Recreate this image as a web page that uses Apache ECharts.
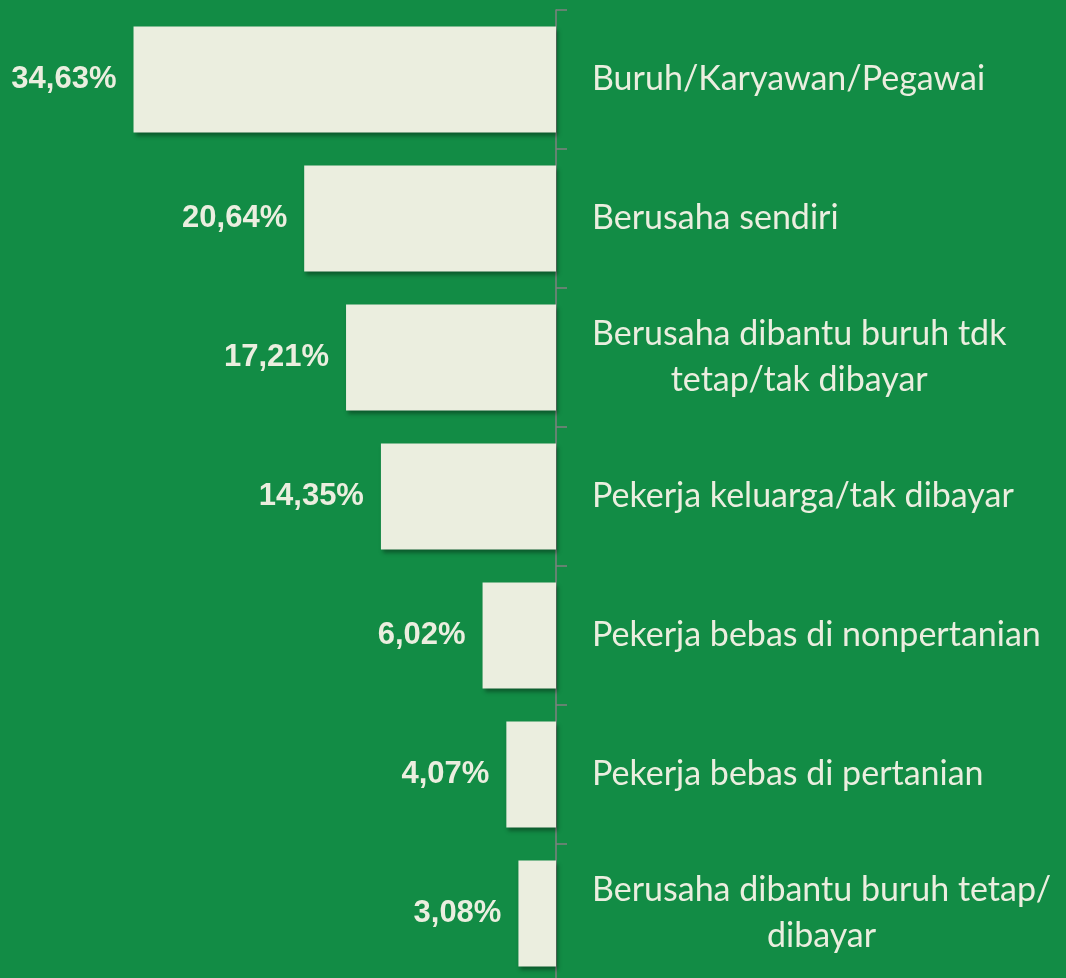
<!DOCTYPE html>
<html>
<head>
<meta charset="utf-8">
<script src="https://cdn.jsdelivr.net/npm/echarts@6/dist/echarts.min.js"></script>
<style>
  html, body { margin: 0; padding: 0; background: #128c45; }
  #main { width: 1066px; height: 978px; }
</style>
</head>
<body>
<div id="main"></div>
<script>
// kategori pekerjaan (atas ke bawah)
var categories = [
  'Buruh/Karyawan/Pegawai',
  'Berusaha sendiri',
  'Berusaha dibantu buruh tdk\ntetap/tak dibayar',
  'Pekerja keluarga/tak dibayar',
  'Pekerja bebas di nonpertanian',
  'Pekerja bebas di pertanian',
  'Berusaha dibantu buruh tetap/\ndibayar'
]
var values = [34.63, 20.64, 17.21, 14.35, 6.02, 4.07, 3.08]

var cream = '#ebeedf'
var myChart = echarts.init(document.getElementById('main'))

var option = {
  backgroundColor: '#128c45',
  animation: false,
  grid: {
    left: 68,
    right: 510,
    top: 10,
    bottom: -5,
    outerBoundsMode: 'none'
  },
  xAxis: {
    type: 'value',
    inverse: true,
    min: 0,
    max: 40,
    show: false
  },
  yAxis: {
    type: 'category',
    data: categories,
    inverse: true,
    position: 'right',
    axisLine: { lineStyle: { color: '#808080', width: 1.5 } },
    axisTick: { show: true, inside: false, length: 11, lineStyle: { color: '#808080', width: 1.5 } },
    axisLabel: {
      margin: 36,
      align: 'left',
      formatter: function (v) {
        return v.split('\n').map(function (s) { return '{a|' + s + '}' }).join('\n')
      },
      rich: {
        a: {
          align: 'center',
          color: cream,
          fontFamily: 'Lato, "Open Sans", sans-serif',
          fontSize: 34,
          lineHeight: 46
        }
      }
    }
  },
  series: [
    {
      type: 'bar',
      data: values,
      barWidth: 106,
      itemStyle: {
        color: cream,
        shadowColor: 'rgba(0,0,0,0.35)',
        shadowBlur: 4,
        shadowOffsetX: 2,
        shadowOffsetY: 3
      },
      label: {
        show: true,
        position: 'left',
        distance: 17,
        color: cream,
        fontFamily: '"Liberation Sans Narrow", "Arial Narrow", "Liberation Sans", sans-serif',
        fontWeight: 'bold',
        fontSize: 31,
        formatter: function (p) {
          return p.value.toFixed(2).replace('.', ',') + '%'
        }
      }
    }
  ]
}

myChart.setOption(option)
</script>
</body>
</html>
